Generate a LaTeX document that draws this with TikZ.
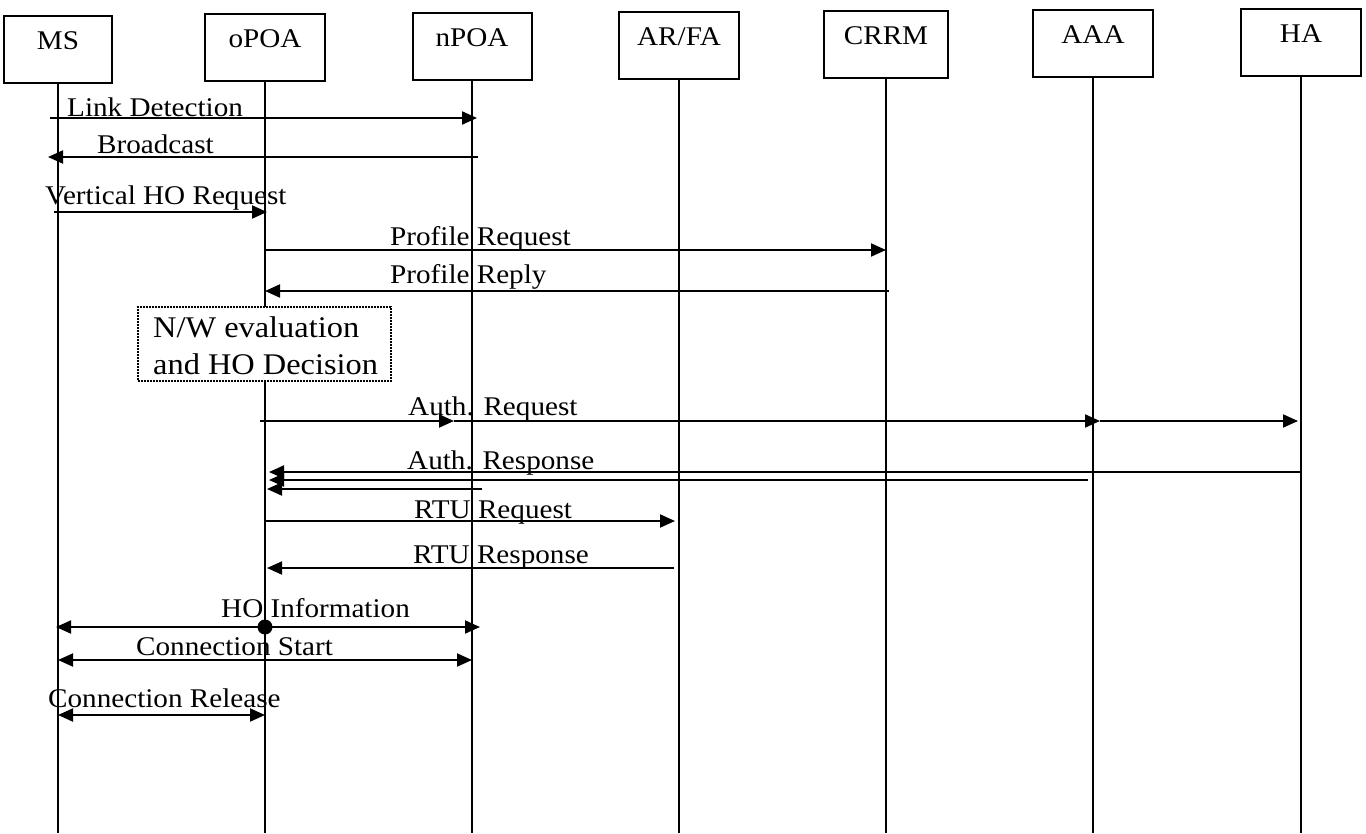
\documentclass[tikz,border=0pt]{standalone}
\usepackage{fontspec}
\setmainfont[FakeStretch=1.08]{Liberation Serif}
\usetikzlibrary{arrows.meta,calc}
\begin{document}
\begin{tikzpicture}[x=1pt,y=-1pt,
  actor/.style={draw, line width=2pt, anchor=north, inner sep=0pt, minimum height=67pt},
  actorname/.style={anchor=base, inner sep=0pt, font=\fontsize{27}{32}\selectfont},
  life/.style={line width=2.5pt},
  msg/.style={line width=2pt, -{Triangle[length=15pt,width=13pt]}},
  bimsg/.style={line width=2pt, {Triangle[length=15pt,width=13pt]}-{Triangle[length=15pt,width=13pt]}},
  lbl/.style={anchor=base west, inner sep=0pt, font=\fontsize{27}{32}\selectfont},
  note/.style={draw, dash pattern=on 1.6pt off 1.4pt, line width=1.6pt, fill=white, inner sep=0pt},
  notetext/.style={anchor=base west, inner sep=0pt, font=\fontsize{30}{35}\selectfont},
  dot/.style={circle, fill, inner sep=0pt, minimum size=15pt}
]
\useasboundingbox[fill=white] (0,0) rectangle (1366,833);

% participants
\node[actor, minimum width=108pt] (ms)   at (58,15)   {};
\node[actor, minimum width=120pt] (opoa) at (265,13)  {};
\node[actor, minimum width=119pt] (npoa) at (472,12)  {};
\node[actor, minimum width=120pt] (arfa) at (679,11)  {};
\node[actor, minimum width=124pt] (crrm) at (886,10)  {};
\node[actor, minimum width=120pt] (aaa)  at (1093,9)  {};
\node[actor, minimum width=120pt] (ha)   at (1301,8)  {};

\node[actorname] (msT)   at ([yshift=-34pt]ms.north)   {MS};
\node[actorname] (opoaT) at ([yshift=-34pt]opoa.north) {oPOA};
\node[actorname] (npoaT) at ([yshift=-34pt]npoa.north) {nPOA};
\node[actorname] (arfaT) at ([yshift=-34pt]arfa.north) {AR/FA};
\node[actorname] (crrmT) at ([yshift=-34pt]crrm.north) {CRRM};
\node[actorname] (aaaT)  at ([yshift=-34pt]aaa.north)  {AAA};
\node[actorname] (haT)   at ([yshift=-34pt]ha.north)   {HA};

% lifelines
\foreach \p in {ms,opoa,npoa,arfa,crrm,aaa,ha}
  \draw[life] (\p.south) -- (\p.south |- 0,833);

% Link Detection
\draw[msg] ($(ms.south|-0,118)+(-8,0)$) -- ($(npoa.south|-0,118)+(5,0)$);
\node[lbl] (t1) at (67,116) {Link Detection};
% Broadcast
\draw[msg] ($(npoa.south|-0,157)+(6,0)$) -- ($(ms.south|-0,157)+(-10,0)$);
\node[lbl] (t2) at (97,153) {Broadcast};
% Vertical HO Request
\draw[msg] ($(ms.south|-0,212)+(-4,0)$) -- ($(opoa.south|-0,212)+(2,0)$);
\node[lbl] (t3) at (45,204) {Vertical HO Request};
% Profile Request
\draw[msg] (opoa.south|-0,250) -- (crrm.south|-0,250);
\node[lbl] (t4) at (390,245) {Profile Request};
% Profile Reply
\draw[msg] ($(crrm.south|-0,291)+(3,0)$) -- (opoa.south|-0,291);
\node[lbl] (t5) at (390,283) {Profile Reply};

% evaluation note
\node[note, minimum width=253pt, minimum height=74pt] (nw) at (264.5,344) {};
\node[notetext] (nw1) at (153,337) {N/W evaluation};
\node[notetext] (nw2) at (153,374) {and HO Decision};

% Auth. Request, relayed over nPOA and AAA to HA
\coordinate (ar1) at ($(npoa.south|-0,421)+(-18,0)$);
\coordinate (ar2) at ($(aaa.south|-0,421)+(7,0)$);
\draw[msg] ($(opoa.south|-0,421)+(-5,0)$) -- (ar1);
\draw[msg] (ar1) -- (ar2);
\draw[msg] (ar2) -- ($(ha.south|-0,421)+(-3,0)$);
\node[lbl] (t6) at (408,415) {Auth. Request};

% Auth. Response from HA, AAA and nPOA
\draw[msg] (ha.south|-0,472) -- ($(opoa.south|-0,472)+(4,0)$);
\draw[msg] ($(aaa.south|-0,480)+(-5,0)$) -- ($(opoa.south|-0,480)+(4,0)$);
\draw[msg] ($(npoa.south|-0,489)+(10,0)$) -- ($(opoa.south|-0,489)+(2,0)$);
\node[lbl] (t7) at (407,469) {Auth. Response};

% RTU Request / Response
\draw[msg] (opoa.south|-0,521) -- ($(arfa.south|-0,521)+(-4,0)$);
\node[lbl] (t8) at (414,518) {RTU Request};
\draw[msg] ($(arfa.south|-0,568)+(-5,0)$) -- ($(opoa.south|-0,568)+(2,0)$);
\node[lbl] (t9) at (413,563) {RTU Response};

% HO Information
\node[dot] (hodot) at (opoa.south|-0,627) {};
\draw[msg] (hodot.center) -- ($(ms.south|-0,627)+(-2,0)$);
\draw[msg] (hodot.center) -- ($(npoa.south|-0,627)+(8,0)$);
\node[lbl] (t10) at (221,617) {HO Information};

% Connection Start / Release
\draw[bimsg] (ms.south|-0,660) -- (npoa.south|-0,660);
\node[lbl] (t11) at (136,655) {Connection Start};
\draw[bimsg] (ms.south|-0,715) -- (opoa.south|-0,715);
\node[lbl] (t12) at (48,707) {Connection Release};
\end{tikzpicture}
\end{document}
